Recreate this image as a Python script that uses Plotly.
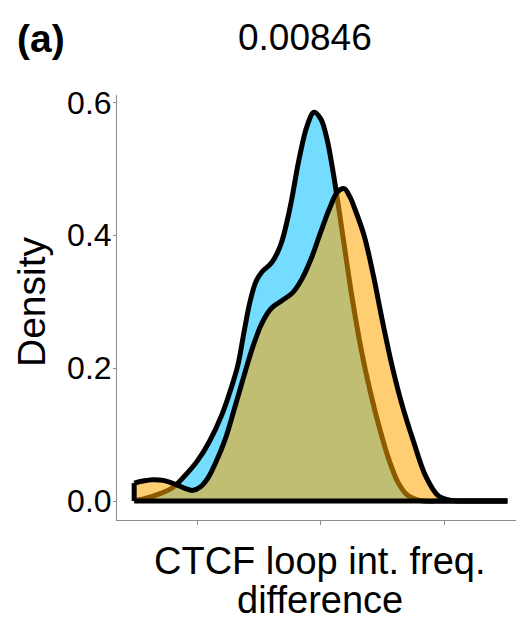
import plotly.graph_objects as go

# ---- data ----
blue_x = [-3.02, -2.87, -2.60, -2.40, -2.20, -2.00, -1.80, -1.60, -1.45, -1.34, -1.25,
          -1.15, -1.05, -0.95, -0.80, -0.65, -0.50, -0.35, -0.22, -0.11, 0.00, 0.10,
          0.20, 0.30, 0.40, 0.50, 0.65, 0.80, 0.95, 1.10, 1.25, 1.40, 1.60, 2.00,
          2.50, 3.02]
blue_y = [0.001, 0.003, 0.011, 0.020, 0.038, 0.060, 0.090, 0.130, 0.170, 0.205, 0.250,
          0.298, 0.330, 0.345, 0.358, 0.385, 0.440, 0.515, 0.565, 0.585, 0.575, 0.545,
          0.495, 0.435, 0.372, 0.310, 0.230, 0.165, 0.110, 0.063, 0.028, 0.009, 0.001,
          0.000, 0.000, 0.000]

orange_x = [-3.02, -2.88, -2.72, -2.55, -2.35, -2.20, -2.07, -1.95, -1.83, -1.70, -1.55,
            -1.40, -1.25, -1.10, -0.95, -0.80, -0.62, -0.45, -0.30, -0.15, 0.00, 0.15,
            0.27, 0.38, 0.47, 0.55, 0.70, 0.85, 1.00, 1.15, 1.30, 1.50, 1.70, 1.90,
            2.10, 2.50, 3.02]
orange_y = [0.027, 0.030, 0.032, 0.031, 0.025, 0.019, 0.016, 0.021, 0.034, 0.058, 0.092,
            0.138, 0.186, 0.232, 0.268, 0.290, 0.302, 0.314, 0.335, 0.366, 0.405, 0.442,
            0.465, 0.470, 0.458, 0.440, 0.400, 0.340, 0.270, 0.205, 0.150, 0.090, 0.037,
            0.008, 0.001, 0.000, 0.000]

y_ticks = [0.0, 0.2, 0.4, 0.6]
y_ticktext = ["0.0", "0.2", "0.4", "0.6"]
x_ticks = [-2, 0, 2]

title_text = "0.00846"
panel_tag = "<b>(a)</b>"
y_title = "Density"
x_title_lines = ["CTCF loop int. freq.", "difference"]

BLUE_FILL = "rgba(0,191,255,0.55)"
ORANGE_FILL = "rgba(255,165,0,0.55)"
FONT = "Liberation Sans, Arial, sans-serif"
LW = 5

fig = go.Figure()
fig.add_trace(go.Scatter(x=blue_x, y=blue_y, mode="lines", fill="tozeroy",
                         fillcolor=BLUE_FILL,
                         line=dict(color="black", width=LW, shape="spline", smoothing=1.0),
                         hoverinfo="skip", showlegend=False))
fig.add_trace(go.Scatter(x=orange_x, y=orange_y, mode="lines", fill="tozeroy",
                         fillcolor=ORANGE_FILL,
                         line=dict(color="black", width=LW, shape="spline", smoothing=1.0),
                         hoverinfo="skip", showlegend=False))
# left vertical edge of the orange polygon
fig.add_trace(go.Scatter(x=[orange_x[0], orange_x[0]], y=[0, orange_y[0]], mode="lines",
                         line=dict(color="black", width=LW), hoverinfo="skip", showlegend=False))
# common baseline of the density polygons
fig.add_trace(go.Scatter(x=[min(blue_x + orange_x), max(blue_x + orange_x)], y=[0, 0],
                         mode="lines", line=dict(color="black", width=LW),
                         hoverinfo="skip", showlegend=False))

W, H = 516, 621
L, R, T, B = 117, 0, 95, 101
PW, PH = W - L - R, H - T - B


def px(x):
    return (x - L) / PW


def py(y):
    return (H - B - y) / PH


fig.update_layout(
    width=W, height=H, autosize=False,
    margin=dict(l=L, r=R, t=T, b=B, pad=0),
    paper_bgcolor="white", plot_bgcolor="white",
    font=dict(family=FONT, color="black"),
    xaxis=dict(range=[-3.298, 3.160], showgrid=False, zeroline=False,
               showline=True, linecolor="#8c8c8c", linewidth=1,
               ticks="outside", ticklen=4, tickcolor="#8c8c8c", tickwidth=1,
               tickvals=x_ticks, showticklabels=False, fixedrange=True),
    yaxis=dict(range=[-0.0286, 0.611], showgrid=False, zeroline=False,
               showline=True, linecolor="#8c8c8c", linewidth=1,
               ticks="outside", ticklen=3, tickcolor="#8c8c8c", tickwidth=1,
               tickvals=y_ticks, ticktext=y_ticktext, ticklabelstandoff=-5,
               tickfont=dict(size=32, color="black", family=FONT), fixedrange=True),
    annotations=[
        dict(text=title_text, x=px(305), y=py(37), xref="paper", yref="paper",
             xanchor="center", yanchor="middle", showarrow=False,
             font=dict(size=37, color="black", family=FONT)),
        dict(text=panel_tag, x=px(15), y=py(39), xref="paper", yref="paper",
             xanchor="left", yanchor="middle", showarrow=False,
             font=dict(size=39, color="black", family=FONT)),
        dict(text=y_title, x=px(31), y=py(302), xref="paper", yref="paper",
             xanchor="center", yanchor="middle", textangle=-90, showarrow=False,
             font=dict(size=39, color="black", family=FONT)),
        dict(text=x_title_lines[0], x=px(320), y=py(561), xref="paper", yref="paper",
             xanchor="center", yanchor="middle", showarrow=False,
             font=dict(size=38, color="black", family=FONT)),
        dict(text=x_title_lines[1], x=px(320), y=py(600), xref="paper", yref="paper",
             xanchor="center", yanchor="middle", showarrow=False,
             font=dict(size=38, color="black", family=FONT)),
    ],
)

fig.write_html("out.html")
